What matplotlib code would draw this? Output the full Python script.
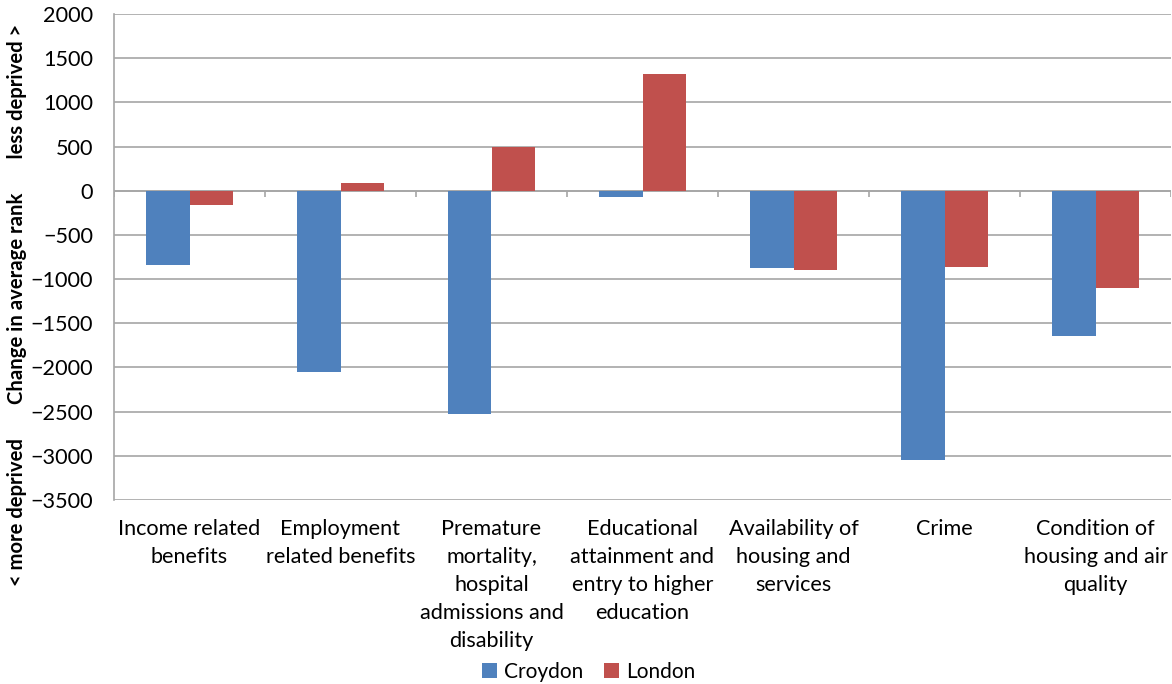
import matplotlib
matplotlib.use("Agg")
import matplotlib.pyplot as plt
import numpy as np

plt.rcParams['font.family'] = ['Lato', 'DejaVu Sans']

categories = ["Income related\nbenefits",
              "Employment\nrelated benefits",
              "Premature\nmortality,\nhospital\nadmissions and\ndisability",
              "Educational\nattainment and\nentry to higher\neducation",
              "Availability of\nhousing and\nservices",
              "Crime",
              "Condition of\nhousing and air\nquality"]
croydon = [-835, -2055, -2530, -75, -880, -3050, -1645]
london = [-160, 85, 500, 1325, -895, -860, -1097]

blue = '#4F81BD'
red = '#C0504D'
grid = '#A6A6A6'
fs = 15.6

fig = plt.figure(figsize=(11.72, 6.84), dpi=100)
ax = fig.add_axes([114 / 1172, 1 - 500 / 684, 1057 / 1172, 486 / 684])

x = np.arange(len(categories))
w = 0.285
ax.bar(x - w / 2, croydon, w, color=blue, label='Croydon', zorder=3)
ax.bar(x + w / 2, london, w, color=red, label='London', zorder=3)

ax.set_xlim(-0.5, len(categories) - 0.5)
ax.set_ylim(-3500, 2000)
ax.set_yticks(np.arange(-3500, 2001, 500))
ax.yaxis.grid(True, color=grid, linewidth=1.2, zorder=0)
ax.set_axisbelow(True)

# category axis sits on zero, with small ticks between groups
ax.axhline(0, color=grid, linewidth=1.2, zorder=2)
ax.vlines(np.arange(len(categories) + 1) - 0.5, -70, 0, color=grid,
          linewidth=1.2, zorder=2)

for s in ['top', 'right', 'bottom']:
    ax.spines[s].set_visible(False)
ax.spines['left'].set_color(grid)
ax.spines['left'].set_linewidth(1.2)

ax.set_xticks(x)
ax.set_xticklabels(categories, fontsize=fs, linespacing=1.5)
ax.tick_params(axis='x', length=0, pad=14)
ax.tick_params(axis='y', length=0, pad=15, labelsize=fs)

fig.text(17 / 1172, 1 - 305 / 684,
         "< more deprived       Change in average rank       less deprived >",
         rotation=90, ha='center', va='center', fontsize=14.6, fontweight='bold')

ax.legend(loc='center', bbox_to_anchor=(589 / 1172, 1 - 672 / 684),
          bbox_transform=fig.transFigure, ncol=2, frameon=False,
          fontsize=15, handlelength=0.7, handleheight=0.7,
          handletextpad=0.35, columnspacing=1.0, borderpad=0)

fig.savefig('out.png', dpi=100)
